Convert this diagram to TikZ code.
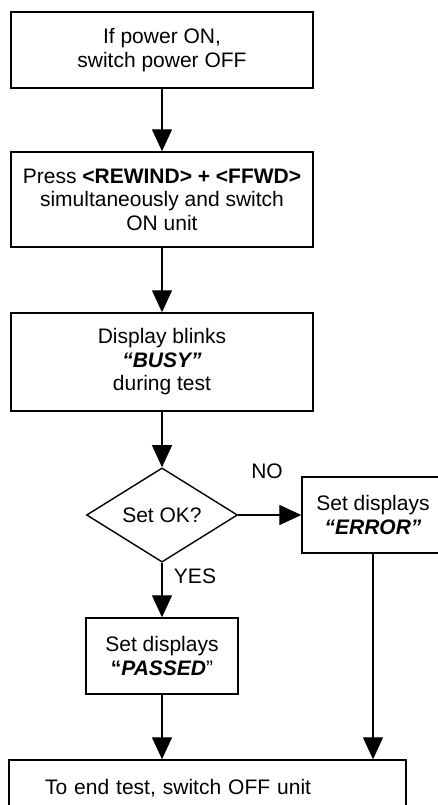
\documentclass[tikz,border=0pt]{standalone}
\usepackage{fontspec}
\setmainfont{Liberation Sans}
\usetikzlibrary{shapes.geometric,arrows.meta}
\tikzset{
  box/.style={draw,line width=1.4pt,rectangle,inner sep=0pt,align=center,
    font=\fontsize{21}{23.5}\selectfont},
  decision/.style={draw,line width=1.4pt,diamond,inner sep=0pt,
    font=\fontsize{21}{23.5}\selectfont},
  lbl/.style={font=\fontsize{21}{23.5}\selectfont,inner sep=0pt},
  flow/.style={line width=1.3pt,-{Triangle[width=20pt,length=22pt]}}
}
\begin{document}
\begin{tikzpicture}[x=1pt,y=-1pt]
\useasboundingbox (0,0) rectangle (438,805);
\node[box,minimum width=302pt,minimum height=76pt] (b1) at (162,50)
  {If power ON,\\switch power OFF};
\node[box,minimum width=302pt,minimum height=95pt] (b2) at (162,199.5)
  {Press \textbf{<REWIND> + <FFWD>}\\simultaneously and switch\\ON unit};
\node[box,minimum width=302pt,minimum height=98pt] (b3) at (162,362)
  {Display blinks\\\textbf{\textit{“BUSY”}}\\during test};
\node[decision,minimum width=151pt,minimum height=77pt] (d) at (162,515)
  {Set OK?};
\node[box,minimum width=142pt,minimum height=76pt] (err) at (373,515)
  {Set displays\\\textbf{\textit{“ERROR”}}};
\node[box,minimum width=152pt,minimum height=76pt] (pass) at (162,656)
  {Set displays\\\textbf{“\textit{PASSED}}”};
\node[box,minimum height=56pt,text width=325pt,align=left,inner xsep=36pt] (end) at (207.5,788)
  {To end test, switch OFF unit};
\draw[flow] (b1) -- (b2);
\draw[flow] (b2) -- (b3);
\draw[flow] (b3) -- (d);
\draw[flow] (d.east) -- (err.west);
\draw[flow] (d.south) -- (pass.north);
\draw[flow] (pass.south) -- (pass.south |- end.north);
\draw[flow] (err.south) -- (err.south |- end.north);
\node[lbl] (no) at (267,471) {NO};
\node[lbl] (yes) at (195,576) {YES};
\end{tikzpicture}
\end{document}
